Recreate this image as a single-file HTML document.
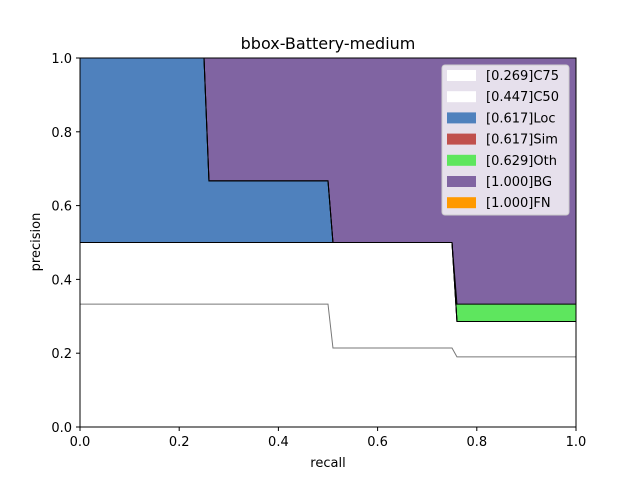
<!DOCTYPE html>
<html><head><meta charset="utf-8"><style>
body{margin:0;background:#fff;font-family:"Liberation Sans","DejaVu Sans",sans-serif}
svg text{font-family:"DejaVu Sans","Liberation Sans",sans-serif}
</style></head><body>
<svg id="chart" width="640" height="480" xmlns="http://www.w3.org/2000/svg">
<rect width="640" height="480" fill="#fff"/>
<text x="328" y="49" font-size="16" text-anchor="middle">bbox-Battery-medium</text>
<g id="areas"></g><g id="lines"></g>
<rect x="80" y="58" width="496" height="369" fill="none" stroke="#000" stroke-width="1"/>
<g id="ticks"></g>
<text x="328" y="467" font-size="13" text-anchor="middle">recall</text>
<text transform="translate(40,242) rotate(-90)" font-size="13" text-anchor="middle">precision</text>
<g id="legend"></g>
</svg>
<script>
const recall=[0,0.25,0.26,0.50,0.51,0.75,0.76,1.0];
const c75=[0.333,0.333,0.333,0.333,0.214,0.214,0.19,0.19];
const c50=[0.5,0.5,0.5,0.5,0.5,0.5,0.286,0.286];
const loc=[1,1,0.667,0.667,0.5,0.5,0.286,0.286];
const sim=[1,1,0.667,0.667,0.5,0.5,0.286,0.286];
const oth=[1,1,0.667,0.667,0.5,0.5,0.333,0.333];
const bg=[1,1,1,1,1,1,1,1];
const fn=[1,1,1,1,1,1,1,1];
const labels=["[0.269]C75","[0.447]C50","[0.617]Loc","[0.617]Sim","[0.629]Oth","[1.000]BG","[1.000]FN"];
const ticks=[0,0.2,0.4,0.6,0.8,1.0];
const series=[c75,c50,loc,sim,oth,bg,fn];
const colors=["#ffffff","#ffffff","#4f81bd","#c0504d","#5ee65e","#8064a2","#ff9900"];
const names=["c75","c50","loc","sim","oth","bg","fn"];
const X=v=>80+v*496, Y=v=>427-v*369;
const NS="http://www.w3.org/2000/svg";
const mk=(t,a,p)=>{const e=document.createElementNS(NS,t);for(const k in a)e.setAttribute(k,a[k]);p.appendChild(e);return e;};
const areas=document.getElementById('areas'),lines=document.getElementById('lines');
let prev=recall.map(()=>0);
series.forEach((s,i)=>{
  let d="M"+recall.map((r,j)=>X(r)+","+Y(s[j])).join("L");
  for(let j=recall.length-1;j>=0;j--)d+="L"+X(recall[j])+","+Y(prev[j]);
  const p=mk('path',{d:d+"Z",fill:colors[i]},areas);
  
  
  prev=s;
});
series.forEach((s,i)=>{
  const l=mk('polyline',{points:recall.map((r,j)=>X(r)+","+Y(s[j])).join(" "),fill:"none",stroke:i==0?"#777":"#000","stroke-width":1},lines);
  
  
});
const tg=document.getElementById('ticks');
ticks.forEach(t=>{
  mk('line',{x1:X(t),x2:X(t),y1:427,y2:431,stroke:"#000"},tg);
  const tx=mk('text',{x:X(t),y:446,"font-size":13,"text-anchor":"middle"},tg);tx.textContent=t.toFixed(1);
  
  
  mk('line',{x1:76,x2:80,y1:Y(t),y2:Y(t),stroke:"#000"},tg);
  const ty=mk('text',{x:72,y:Y(t)+5,"font-size":13,"text-anchor":"end"},tg);ty.textContent=t.toFixed(1);
  
  
});
const lg=document.getElementById('legend');
const box=mk('rect',{x:442,y:65,width:127,height:150,rx:3,fill:"#fff","fill-opacity":0.8,stroke:"#ccc"},lg);


labels.forEach((t,i)=>{
  const y=75+i*21.2;
  mk('rect',{x:447,y:y-5,width:29,height:11,fill:colors[i]},lg);
  const e=mk('text',{x:486,y:y+5,"font-size":13},lg);e.textContent=t;
  
  
});
</script>
</body></html>
